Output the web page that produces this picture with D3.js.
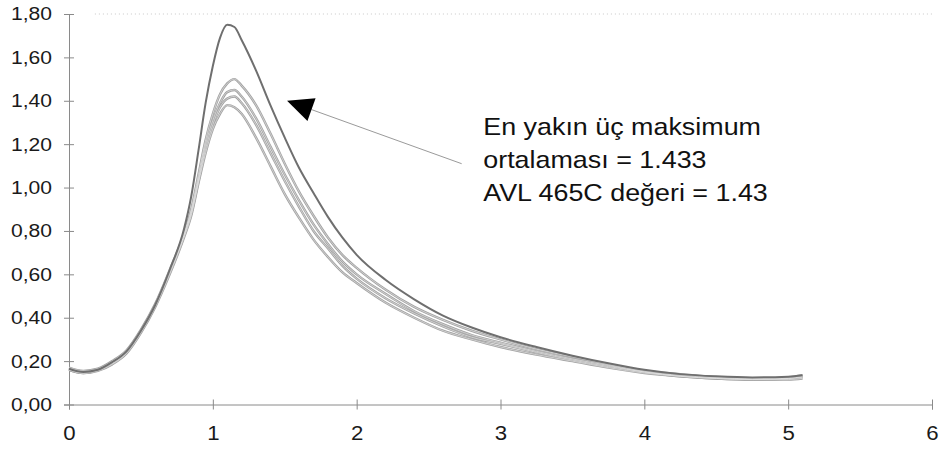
<!DOCTYPE html>
<html>
<head>
<meta charset="utf-8">
<script src="https://cdn.jsdelivr.net/npm/d3@7"></script>
<style>
  body { margin: 0; background: #fff; }
  text { font-family: "Liberation Sans", Arial, sans-serif; }
</style>
</head>
<body>
<div id="chart"></div>
<script>
// x sampling points (shared by all runs)
var xs = [0, 0.1, 0.2, 0.3, 0.4, 0.5, 0.6, 0.7, 0.8, 0.85, 0.9, 0.95, 1.0, 1.05, 1.1, 1.15, 1.2, 1.3, 1.4, 1.5,
          1.6, 1.7, 1.8, 1.9, 2.0, 2.2, 2.4, 2.6, 2.8, 3.0, 3.25, 3.5, 3.75, 4.0, 4.25, 4.5, 4.75, 5.0, 5.1];

var run1 = [0.165, 0.15, 0.16, 0.195, 0.245, 0.34, 0.46, 0.62, 0.81, 0.96, 1.17, 1.39, 1.56, 1.69, 1.75, 1.74, 1.68, 1.54, 1.38, 1.23,
            1.09, 0.975, 0.865, 0.77, 0.69, 0.575, 0.485, 0.41, 0.355, 0.31, 0.265, 0.225, 0.19, 0.16, 0.14, 0.13, 0.125, 0.128, 0.135];
var run2 = [0.17, 0.155, 0.165, 0.20, 0.25, 0.345, 0.465, 0.62, 0.79, 0.90, 1.06, 1.22, 1.34, 1.43, 1.48, 1.50, 1.47, 1.38, 1.25, 1.11,
            0.98, 0.87, 0.77, 0.69, 0.63, 0.53, 0.45, 0.39, 0.34, 0.30, 0.255, 0.22, 0.185, 0.155, 0.14, 0.125, 0.12, 0.125, 0.135];
var run3 = [0.16, 0.145, 0.16, 0.19, 0.24, 0.335, 0.455, 0.61, 0.78, 0.89, 1.04, 1.20, 1.31, 1.39, 1.44, 1.45, 1.42, 1.32, 1.19, 1.06,
            0.94, 0.83, 0.74, 0.66, 0.60, 0.51, 0.43, 0.37, 0.32, 0.285, 0.245, 0.21, 0.18, 0.15, 0.135, 0.125, 0.12, 0.12, 0.13];
var run4 = [0.165, 0.15, 0.16, 0.19, 0.24, 0.34, 0.46, 0.61, 0.78, 0.88, 1.03, 1.18, 1.29, 1.37, 1.41, 1.42, 1.39, 1.29, 1.16, 1.03,
            0.91, 0.80, 0.72, 0.64, 0.58, 0.49, 0.42, 0.36, 0.31, 0.28, 0.24, 0.205, 0.175, 0.15, 0.13, 0.12, 0.115, 0.12, 0.125];
var run5 = [0.16, 0.145, 0.155, 0.185, 0.235, 0.33, 0.45, 0.60, 0.77, 0.87, 1.02, 1.16, 1.27, 1.34, 1.38, 1.37, 1.34, 1.23, 1.10, 0.97,
            0.86, 0.76, 0.68, 0.61, 0.56, 0.47, 0.40, 0.34, 0.30, 0.265, 0.23, 0.20, 0.17, 0.145, 0.13, 0.12, 0.115, 0.115, 0.12];

var yTicks = [0, 0.2, 0.4, 0.6, 0.8, 1.0, 1.2, 1.4, 1.6, 1.8];
var xTicks = [0, 1, 2, 3, 4, 5, 6];

var noteLines = ["En yakın üç maksimum", "ortalaması = 1.433", "AVL 465C değeri = 1.43"];
var arrowTip = [1.516, 1.40];
var arrowTail = [2.73, 1.11];
var notePos = [2.88, 1.24];

var W = 939, H = 451;
var margin = {top: 14, right: 7, bottom: 46.5, left: 69},
    width = W - margin.left - margin.right,
    height = H - margin.top - margin.bottom;

var svg = d3.select("#chart").append("svg")
    .attr("width", W).attr("height", H)
  .append("g")
    .attr("transform", "translate(" + margin.left + "," + margin.top + ")");

var x = d3.scaleLinear().domain([0, 6]).range([0, width]);
var y = d3.scaleLinear().domain([0, 1.8]).range([height, 0]);

var stretch = 1.14;

// faint top border of the plot area
svg.append("line")
    .attr("x1", x(0.18)).attr("x2", x(6))
    .attr("y1", y(1.8)).attr("y2", y(1.8))
    .attr("stroke", "#c8c8c8").attr("stroke-width", 1)
    .attr("stroke-dasharray", "1,3");

// Y axis
var yAxis = svg.append("g")
    .call(d3.axisLeft(y).tickValues(yTicks).tickSize(5)
        .tickFormat(function(d) { return d3.format(".2f")(d).replace(".", ","); }));
yAxis.select(".domain").attr("stroke", "#8a8a8a");
yAxis.selectAll(".tick line").attr("x1", -5).attr("x2", 5).attr("stroke", "#8a8a8a");
yAxis.selectAll(".tick text")
    .attr("x", 0)
    .attr("transform", "translate(-17,0) scale(" + stretch + ",1)")
    .attr("font-size", 18.5)
    .attr("fill", "#1a1a1a");

// X axis
var xAxis = svg.append("g")
    .attr("transform", "translate(0," + height + ")")
    .call(d3.axisBottom(x).tickValues(xTicks).tickSize(5).tickFormat(d3.format("d")));
xAxis.select(".domain").attr("stroke", "#8a8a8a");
xAxis.selectAll(".tick line").attr("y1", -5).attr("y2", 5).attr("stroke", "#8a8a8a");
xAxis.selectAll(".tick text")
    .attr("y", 0).attr("dy", 0)
    .attr("transform", "translate(0,35.5) scale(" + stretch + ",1)")
    .attr("font-size", 19.5)
    .attr("fill", "#1a1a1a");

// curves
var line = d3.line()
    .x(function(d) { return x(d[0]); })
    .y(function(d) { return y(d[1]); })
    .curve(d3.curveMonotoneX);

function pairs(vals) { return xs.map(function(v, i) { return [v, vals[i]]; }); }

var lightRuns = [run2, run3, run4, run5];
lightRuns.forEach(function(r) {
    svg.append("path").datum(pairs(r))
        .attr("d", line).attr("fill", "none")
        .attr("stroke", "#a2a2a2").attr("stroke-width", 2.4);
});
lightRuns.forEach(function(r) {
    svg.append("path").datum(pairs(r))
        .attr("d", line).attr("fill", "none")
        .attr("stroke", "#e4e4e4").attr("stroke-width", 0.7);
});
svg.append("path").datum(pairs(run1))
    .attr("d", line).attr("fill", "none")
    .attr("stroke", "#6f6f6f").attr("stroke-width", 2);

// annotation arrow
var tx = x(arrowTip[0]), ty = y(arrowTip[1]);
var ex = x(arrowTail[0]), ey = y(arrowTail[1]);
var len = Math.hypot(ex - tx, ey - ty);
var ux = (ex - tx) / len, uy = (ey - ty) / len;
var bx = tx + ux * 26, by = ty + uy * 26;
svg.append("line")
    .attr("x1", bx).attr("y1", by).attr("x2", ex).attr("y2", ey)
    .attr("stroke", "#9a9a9a").attr("stroke-width", 1);
svg.append("path")
    .attr("d", "M" + tx + "," + ty +
               "L" + (bx - uy * 12) + "," + (by + ux * 12) +
               "L" + (bx + uy * 12) + "," + (by - ux * 12) + "Z")
    .attr("fill", "#000");

// annotation text
var note = svg.append("g")
    .attr("transform", "translate(" + x(notePos[0]) + "," + y(notePos[1]) + ") scale(1.12,1)");
note.selectAll("text").data(noteLines).enter().append("text")
    .attr("x", 0)
    .attr("y", function(d, i) { return i * 33; })
    .attr("font-size", 24)
    .attr("fill", "#111")
    .text(function(d) { return d; });
</script>
</body>
</html>
